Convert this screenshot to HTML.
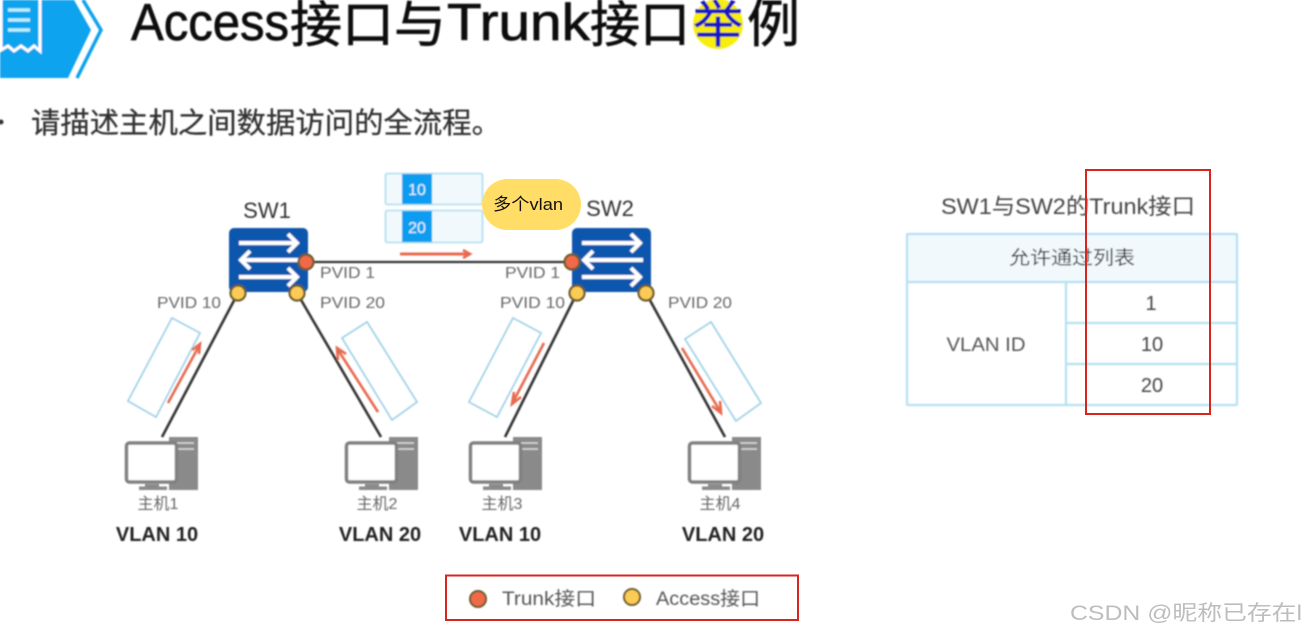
<!DOCTYPE html>
<html><head><meta charset="utf-8"><style>
html,body{margin:0;padding:0;background:#fff;width:1305px;height:633px;overflow:hidden}
svg{display:block}
text{font-family:"Liberation Sans","Noto Sans CJK SC",sans-serif}
</style></head><body>
<svg width="1305" height="633" viewBox="0 0 1305 633" xmlns="http://www.w3.org/2000/svg">
<defs>
<filter id="b" x="-5%" y="-5%" width="110%" height="110%"><feGaussianBlur stdDeviation="0.7"/></filter>
<g id="pc">
 <path d="M44 0H73V53H44Z" fill="#8a8a8a"/>
 <path d="M52 6H69M52 12H69" stroke="#ddd" stroke-width="1.5"/>
 <rect x="1.5" y="6" width="50" height="39" rx="3" fill="#fff" stroke="#808080" stroke-width="3.5"/>
 <path d="M20 47H34V50H20Z" fill="#8a8a8a"/>
 <rect x="14" y="49.5" width="28" height="3.5" fill="#8a8a8a"/>
</g>
<g id="sw">
 <rect x="0" y="0" width="79" height="64" rx="5" fill="#0a57ad"/>
 <g fill="none" stroke="#fff" stroke-width="4">
  <path d="M10 15H67M59 6L68 15L59 24"/>
  <path d="M71 32H13M21 23L12 32L21 41"/>
  <path d="M10 49H67M59 40L68 49L59 58"/>
 </g>
</g>
</defs>
<g filter="url(#b)">
 <!-- header icon -->
 <polygon points="0,0 74,0 91,30 68,78 0,78" fill="#0aa3ee"/>
 <polyline points="83,0 101,30 77,78" fill="none" stroke="#0aa3ee" stroke-width="3.5"/>
 <path d="M1 0V50L8 46L14 51L21 46L28 51L34 46L40 51V0" fill="none" stroke="#fff" stroke-width="3"/>
 <path d="M8 10H30M8 20H30M8 30H30" stroke="#bdeeff" stroke-width="3.5"/>
 <circle cx="718" cy="24" r="25" fill="#f7ee10"/>
 <g fill="#111" stroke="#111" stroke-width=".7">
  <text x="131" y="40" font-size="52" textLength="158" lengthAdjust="spacingAndGlyphs">Access</text>
  <text x="290" y="42" font-size="50" textLength="156" lengthAdjust="spacingAndGlyphs">接口与</text>
  <text x="447" y="40" font-size="52" textLength="143" lengthAdjust="spacingAndGlyphs">Trunk</text>
  <text x="590" y="42" font-size="50" textLength="100" lengthAdjust="spacingAndGlyphs">接口</text>
  <text x="747" y="42" font-size="52" textLength="53" lengthAdjust="spacingAndGlyphs">例</text>
 </g>
 <text x="693" y="42" font-size="50" fill="#1212c8" stroke="#1212c8" stroke-width=".6">举</text>
 <circle cx="1" cy="122" r="2.5" fill="#333"/>
 <text x="31" y="133" font-size="29" fill="#333" stroke="#333" stroke-width=".3" textLength="470" lengthAdjust="spacingAndGlyphs">请描述主机之间数据访问的全流程。</text>

 <!-- vlan frames -->
 <rect x="385.5" y="173.5" width="97" height="31" rx="2" fill="#f1f9fd" stroke="#acdcf0" stroke-width="1.6"/>
 <rect x="385.5" y="210.5" width="97" height="32" rx="2" fill="#f1f9fd" stroke="#acdcf0" stroke-width="1.6"/>
 <rect x="402" y="174" width="30" height="30" fill="#0a9df0"/>
 <rect x="402" y="211" width="30" height="31" fill="#0a9df0"/>
 <text x="417" y="195" font-size="16" fill="#e8f6ff" text-anchor="middle">10</text>
 <text x="417" y="233" font-size="16" fill="#e8f6ff" text-anchor="middle">20</text>

 <!-- packet frames -->
 <g fill="#fff" stroke="#9fd2e8" stroke-width="1.8">
  <polygon points="172,318 200,333 156,417 128,401"/>
  <polygon points="367,322 417,402 392,420 342,338"/>
  <polygon points="513,318 541,333 497,417 469,402"/>
  <polygon points="711,322 761,403 736,421 685,339"/>
 </g>

 <!-- links -->
 <g stroke="#333" fill="none" stroke-width="2.6">
  <path d="M306 262H572" stroke-width="2.2"/>
  <path d="M238 293L162 437"/>
  <path d="M297 293L381 437"/>
  <path d="M577 293L505 437"/>
  <path d="M646 293L725 437"/>
 </g>

 <!-- red arrows -->
 <g stroke="#e8694f" fill="none" stroke-width="2.6">
  <path d="M168 403L199 346"/><path d="M192 350L200 344L199 354"/>
  <path d="M378 412L338 350"/><path d="M338 360L337 348L346 354"/>
  <path d="M544 343L513 402"/><path d="M514 392L512 404L521 397"/>
  <path d="M682 348L720 411"/><path d="M720 401L721 413L712 406"/>
  <path d="M400 254H470" stroke-width="3"/><path d="M463 250L470 254L463 258"/>
 </g>

 <!-- switches -->
 <use href="#sw" x="229" y="228"/>
 <use href="#sw" x="572" y="228"/>
 <text x="267" y="218" font-size="22" fill="#333" text-anchor="middle">SW1</text>
 <text x="610" y="216" font-size="22" fill="#333" text-anchor="middle">SW2</text>

 <!-- ports -->
 <g stroke="#6a5a2c" stroke-width="2.2">
  <circle cx="306" cy="262" r="7.5" fill="#f0694a"/>
  <circle cx="572" cy="262" r="7.5" fill="#f0694a"/>
  <g fill="#fccb55">
   <circle cx="238" cy="293" r="7.5"/>
   <circle cx="297" cy="293" r="7.5"/>
   <circle cx="577" cy="293" r="7.5"/>
   <circle cx="646" cy="293" r="7.5"/>
  </g>
 </g>

 <!-- PVID labels -->
 <g font-size="16" fill="#666">
  <text x="320" y="278" textLength="55" lengthAdjust="spacingAndGlyphs">PVID 1</text>
  <text x="320" y="308" textLength="65" lengthAdjust="spacingAndGlyphs">PVID 20</text>
  <text x="157" y="308" textLength="64" lengthAdjust="spacingAndGlyphs">PVID 10</text>
  <text x="505" y="278" textLength="55" lengthAdjust="spacingAndGlyphs">PVID 1</text>
  <text x="500" y="308" textLength="65" lengthAdjust="spacingAndGlyphs">PVID 10</text>
  <text x="668" y="308" textLength="64" lengthAdjust="spacingAndGlyphs">PVID 20</text>
 </g>

 <!-- hosts -->
 <use href="#pc" x="125" y="437"/>
 <use href="#pc" x="345" y="437"/>
 <use href="#pc" x="469" y="437"/>
 <use href="#pc" x="688" y="437"/>
 <g font-size="16" fill="#666" text-anchor="middle">
  <text x="158" y="509">主机1</text>
  <text x="377" y="509">主机2</text>
  <text x="502" y="509">主机3</text>
  <text x="720" y="509">主机4</text>
 </g>
 <g font-size="20" fill="#222" font-weight="bold" text-anchor="middle">
  <text x="157" y="541">VLAN 10</text>
  <text x="380" y="541">VLAN 20</text>
  <text x="500" y="541">VLAN 10</text>
  <text x="723" y="541">VLAN 20</text>
 </g>

 <!-- legend contents -->
 <circle cx="478" cy="599" r="8" fill="#f0694a" stroke="#6a5a2c" stroke-width="2"/>
 <circle cx="632" cy="597" r="8" fill="#fccb55" stroke="#6a5a2c" stroke-width="2"/>
 <text x="502" y="605" font-size="19" fill="#555" textLength="94" lengthAdjust="spacingAndGlyphs">Trunk接口</text>
 <text x="656" y="605" font-size="19" fill="#555" textLength="104" lengthAdjust="spacingAndGlyphs">Access接口</text>

 <!-- table -->
 <text x="941" y="214" font-size="22" fill="#444" textLength="254" lengthAdjust="spacingAndGlyphs">SW1与SW2的Trunk接口</text>
 <rect x="907" y="234" width="330" height="48" fill="#f1f9fd"/>
 <rect x="907" y="234" width="330" height="171" rx="1" fill="none" stroke="#b5e0f2" stroke-width="2.2"/>
 <path d="M907 282H1237M1066 282V405M1066 323H1237M1066 364H1237" stroke="#b5e0f2" stroke-width="2.2" fill="none"/>
 <text x="1072" y="264" font-size="19" fill="#333" text-anchor="middle" textLength="126" lengthAdjust="spacingAndGlyphs">允许通过列表</text>
 <text x="986" y="351" font-size="19" fill="#555" text-anchor="middle" textLength="79" lengthAdjust="spacingAndGlyphs">VLAN ID</text>
 <g font-size="20" fill="#444" text-anchor="middle">
  <text x="1151" y="310">1</text>
  <text x="1152" y="351">10</text>
  <text x="1152" y="392">20</text>
 </g>
</g>

<!-- crisp overlays -->
<rect x="482" y="179" width="99" height="51" rx="25.5" fill="#ffdd66"/>
<text x="493" y="210" font-size="17" fill="#111" textLength="70" lengthAdjust="spacingAndGlyphs">多个vlan</text>
<rect x="1086" y="170" width="124" height="244" fill="none" stroke="#d8261f" stroke-width="2"/>
<rect x="446" y="575.5" width="352" height="44.5" fill="none" stroke="#d8261f" stroke-width="2"/>
<text x="1070" y="620" font-size="21" fill="#bdbdbd" textLength="232" lengthAdjust="spacingAndGlyphs">CSDN @昵称已存在l</text>
</svg>
</body></html>
